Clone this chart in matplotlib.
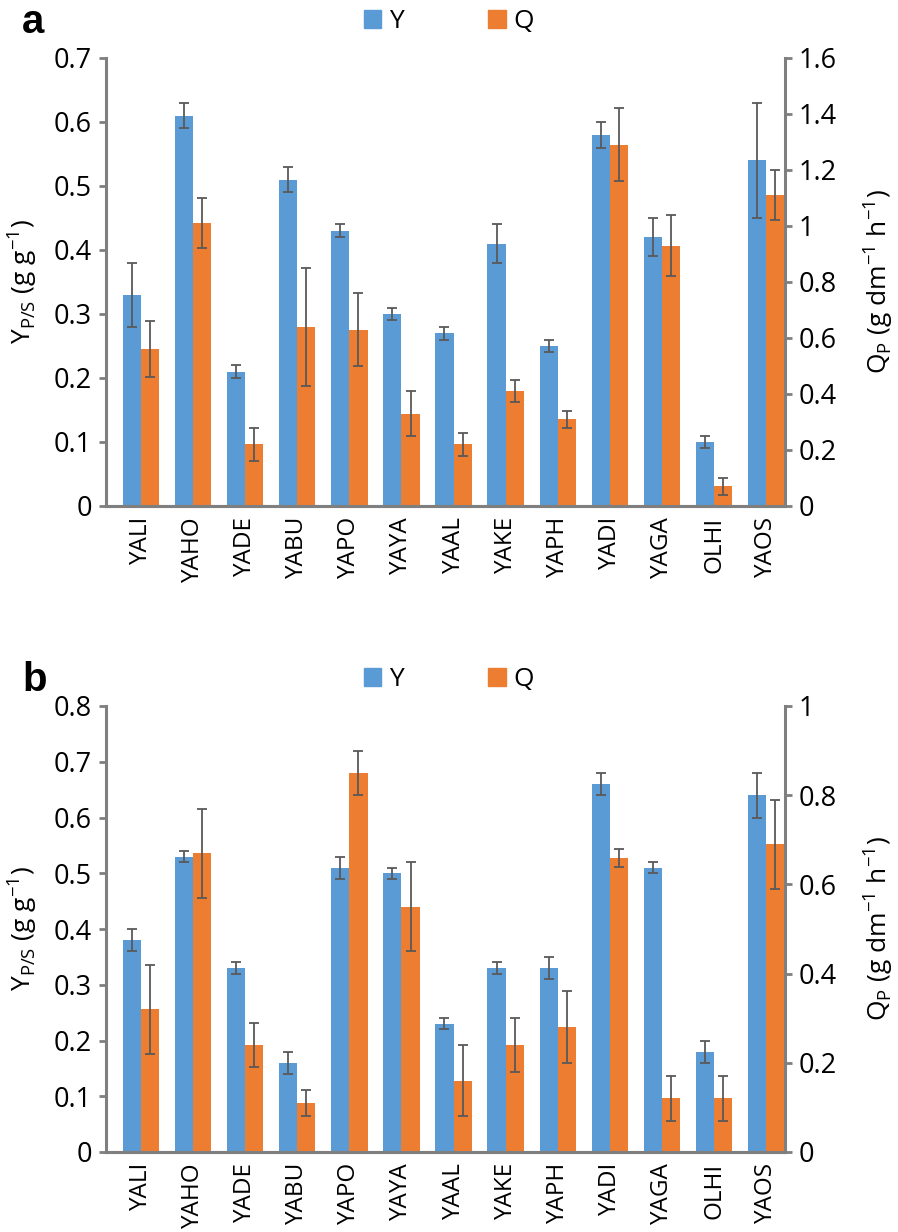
from matplotlib import pyplot as plt
from matplotlib.patches import Patch
from matplotlib.ticker import FuncFormatter

import numpy as np

plt.rcParams['font.family'] = ['Open Sans', 'DejaVu Sans']

# Strain names (categories)
strains = ['YALI', 'YAHO', 'YADE', 'YABU', 'YAPO', 'YAYA', 'YAAL',
           'YAKE', 'YAPH', 'YADI', 'YAGA', 'OLHI', 'YAOS']

# Panel a: yield Y (g/g) and productivity Q (g/dm3/h)
y_a = [0.33, 0.61, 0.21, 0.51, 0.43, 0.30, 0.27, 0.41, 0.25, 0.58, 0.42, 0.10, 0.54]
y_a_err = [0.05, 0.02, 0.01, 0.02, 0.01, 0.01, 0.01, 0.03, 0.01, 0.02, 0.03, 0.01, 0.09]
q_a = [0.56, 1.01, 0.22, 0.64, 0.63, 0.33, 0.22, 0.41, 0.31, 1.29, 0.93, 0.07, 1.11]
q_a_err = [0.10, 0.09, 0.06, 0.21, 0.13, 0.08, 0.04, 0.04, 0.03, 0.13, 0.11, 0.03, 0.09]

# Panel b
y_b = [0.38, 0.53, 0.33, 0.16, 0.51, 0.50, 0.23, 0.33, 0.33, 0.66, 0.51, 0.18, 0.64]
y_b_err = [0.02, 0.01, 0.01, 0.02, 0.02, 0.01, 0.01, 0.01, 0.02, 0.02, 0.01, 0.02, 0.04]
q_b = [0.32, 0.67, 0.24, 0.11, 0.85, 0.55, 0.16, 0.24, 0.28, 0.66, 0.12, 0.12, 0.69]
q_b_err = [0.10, 0.10, 0.05, 0.03, 0.05, 0.10, 0.08, 0.06, 0.08, 0.02, 0.05, 0.05, 0.10]

blue = '#5B9BD5'
orange = '#ED7D31'
grey = '#7F7F7F'
errc = '#595959'

fig = plt.figure(figsize=(8.98, 12.32))

def fmt(v, pos):
    return '%g' % round(v, 2)

def panel(rect, y, yerr, q, qerr, ymax, qmax, letter, legy, labely):
    ax = fig.add_axes(rect)
    ax2 = ax.twinx()
    x = np.arange(len(strains))
    w = 0.35

    ax.bar(x - w/2, y, w, color=blue, zorder=2)
    ax.errorbar(x - w/2, y, yerr=yerr, fmt='none', ecolor=errc,
                elinewidth=1.3, capsize=3.8, capthick=1.3, zorder=3)
    ax2.bar(x + w/2, q, w, color=orange, zorder=2)
    ax2.errorbar(x + w/2, q, yerr=qerr, fmt='none', ecolor=errc,
                 elinewidth=1.3, capsize=3.8, capthick=1.3, zorder=3)

    ax.set_xlim(-0.67, 12.36)
    ax.set_ylim(0, ymax)
    ax2.set_ylim(0, qmax)
    ax.set_yticks(np.arange(0, ymax + 1e-9, 0.1))
    ax2.set_yticks(np.arange(0, qmax + 1e-9, 0.2))
    ax.yaxis.set_major_formatter(FuncFormatter(fmt))
    ax2.yaxis.set_major_formatter(FuncFormatter(fmt))

    ax.set_xticks(x)
    ax.set_xticklabels(strains, rotation=90, fontsize=17.5)
    ax.tick_params(axis='x', length=0, pad=8)
    ax.tick_params(axis='y', labelsize=19.5, length=5, width=2, color=grey, pad=5)
    ax2.tick_params(axis='y', labelsize=19.5, length=5, width=2, color=grey, pad=5)

    for a in [ax, ax2]:
        a.spines['top'].set_visible(False)
        for s in ['left', 'right', 'bottom']:
            a.spines[s].set_color(grey)
            a.spines[s].set_linewidth(2.2)
    ax.spines['right'].set_visible(False)
    ax2.spines['left'].set_visible(False)

    fig.text(22/898, labely, r'Y$_{\mathregular{P/S}}$ (g g$^{\mathregular{-1}}$)',
             rotation=90, ha='center', va='center', fontsize=19)
    fig.text(878/898, labely, r'Q$_{\mathregular{P}}$ (g dm$^{\mathregular{-1}}$ h$^{\mathregular{-1}}$)',
             rotation=90, ha='center', va='center', fontsize=19)

    fig.text(22/898, legy, letter, fontsize=29, fontweight='bold',
             family='Liberation Sans', ha='left', va='center')

    handles = [Patch(color=blue, label='Y'), Patch(color=orange, label='Q')]
    fig.legend(handles=handles, loc='center', bbox_to_anchor=(0.5, legy),
               ncol=2, frameon=False, fontsize=19, handlelength=0.65,
               handleheight=0.65, handletextpad=0.3, columnspacing=3.2)

panel([106/898, 1 - 506/1232, 679/898, 448/1232], y_a, y_a_err, q_a, q_a_err,
      0.7, 1.6, 'a', 1 - 22/1232, 1 - 282/1232)
panel([106/898, 1 - 1152/1232, 679/898, 446/1232], y_b, y_b_err, q_b, q_b_err,
      0.8, 1.0, 'b', 1 - 680/1232, 1 - 929/1232)

fig.savefig('out.png', dpi=100)
